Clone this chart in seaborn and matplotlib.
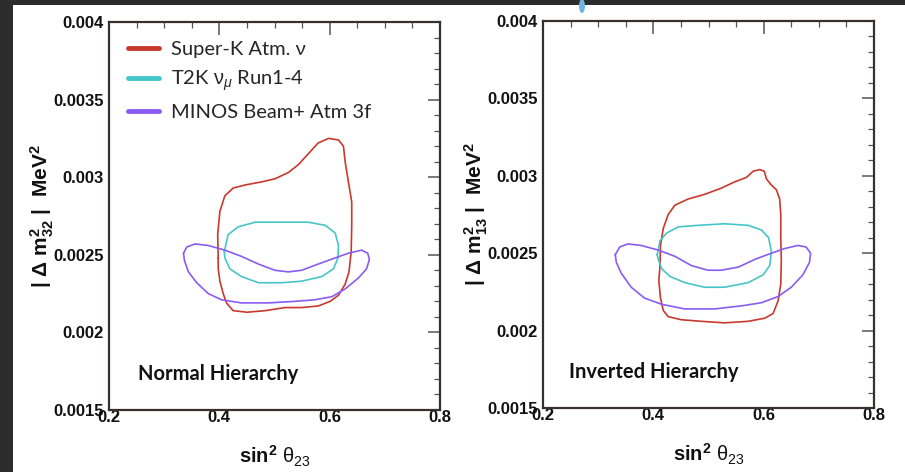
import numpy as np
import pandas as pd
import matplotlib.pyplot as plt
import seaborn as sns
from matplotlib.lines import Line2D
from matplotlib.patches import Rectangle, Ellipse
from matplotlib.ticker import MultipleLocator, FuncFormatter

# =========================
# DATA (contours, sin^2 theta23 vs |dm^2|)
# =========================
series = ["Super-K Atm. ν", r"T2K $\mathrm{\nu}_{\mu}$ Run1-4", "MINOS Beam+ Atm 3f"]
colors = ["#c8392e", "#45c6c8", "#8a5cf2"]

# Normal hierarchy
nh_sk_x = [0.398, 0.397, 0.401, 0.410, 0.425, 0.447, 0.477, 0.501, 0.525, 0.543, 0.561, 0.579, 0.598,
           0.616, 0.625, 0.628, 0.634, 0.640, 0.640, 0.639, 0.635, 0.628, 0.616, 0.601, 0.579, 0.549,
           0.519, 0.483, 0.450, 0.425, 0.413, 0.407, 0.401, 0.398, 0.398]
nh_sk_y = [0.00248, 0.00263, 0.00278, 0.00288, 0.00293, 0.00295, 0.00297, 0.00299, 0.00303, 0.00308, 0.00315, 0.00322, 0.00325,
           0.00324, 0.00320, 0.00310, 0.00297, 0.00284, 0.00269, 0.00252, 0.00239, 0.00231, 0.00224, 0.00220, 0.00217, 0.00216,
           0.00216, 0.00214, 0.00213, 0.00214, 0.00219, 0.00225, 0.00233, 0.00241, 0.00248]

nh_t2k_x = [0.409, 0.416, 0.434, 0.465, 0.513, 0.561, 0.592, 0.610, 0.616, 0.615, 0.607, 0.586,
            0.549, 0.513, 0.471, 0.440, 0.419, 0.410, 0.409]
nh_t2k_y = [0.00252, 0.00263, 0.00268, 0.00271, 0.00271, 0.00271, 0.00269, 0.00264, 0.00256, 0.00248, 0.00241, 0.00236,
            0.00233, 0.00232, 0.00232, 0.00236, 0.00241, 0.00248, 0.00252]

nh_minos_x = [0.335, 0.341, 0.356, 0.380, 0.410, 0.440, 0.471, 0.501, 0.525, 0.549, 0.579, 0.610, 0.634,
              0.658, 0.669, 0.672, 0.667, 0.652, 0.628, 0.604, 0.573, 0.537, 0.489, 0.440, 0.404, 0.380,
              0.359, 0.344, 0.337, 0.335]
nh_minos_y = [0.00251, 0.00255, 0.00257, 0.00256, 0.00253, 0.00249, 0.00244, 0.00240, 0.00239, 0.00240, 0.00244, 0.00248, 0.00251,
              0.00253, 0.00251, 0.00247, 0.00241, 0.00235, 0.00228, 0.00223, 0.00221, 0.00220, 0.00219, 0.00219, 0.00221, 0.00225,
              0.00232, 0.00239, 0.00246, 0.00251]

# Inverted hierarchy
ih_sk_x = [0.412, 0.413, 0.418, 0.427, 0.439, 0.463, 0.493, 0.523, 0.547, 0.569, 0.581, 0.593, 0.601,
           0.605, 0.614, 0.623, 0.629, 0.631, 0.631, 0.632, 0.631, 0.626, 0.617, 0.602, 0.572, 0.529,
           0.487, 0.451, 0.427, 0.418, 0.413, 0.410, 0.412]
ih_sk_y = [0.00242, 0.00255, 0.00266, 0.00275, 0.00281, 0.00285, 0.00288, 0.00292, 0.00296, 0.00299, 0.00303, 0.00304, 0.00303,
           0.00298, 0.00294, 0.00291, 0.00285, 0.00275, 0.00260, 0.00245, 0.00230, 0.00219, 0.00211, 0.00208, 0.00206, 0.00205,
           0.00206, 0.00207, 0.00209, 0.00213, 0.00221, 0.00232, 0.00242]

ih_t2k_x = [0.407, 0.412, 0.424, 0.445, 0.481, 0.529, 0.572, 0.596, 0.609, 0.614, 0.611, 0.599,
            0.572, 0.529, 0.493, 0.457, 0.430, 0.415, 0.409, 0.407]
ih_t2k_y = [0.00249, 0.00258, 0.00263, 0.00267, 0.00268, 0.00269, 0.00268, 0.00265, 0.00260, 0.00251, 0.00242, 0.00236,
            0.00231, 0.00228, 0.00228, 0.00231, 0.00235, 0.00240, 0.00246, 0.00249]

ih_minos_x = [0.331, 0.339, 0.354, 0.378, 0.409, 0.439, 0.469, 0.499, 0.523, 0.554, 0.584, 0.614, 0.638,
              0.662, 0.677, 0.685, 0.683, 0.671, 0.650, 0.626, 0.596, 0.560, 0.511, 0.457, 0.415, 0.384,
              0.360, 0.342, 0.333, 0.331]
ih_minos_y = [0.00249, 0.00254, 0.00256, 0.00255, 0.00252, 0.00248, 0.00242, 0.00239, 0.00239, 0.00241, 0.00246, 0.00250, 0.00253,
              0.00255, 0.00254, 0.00250, 0.00244, 0.00236, 0.00228, 0.00222, 0.00218, 0.00216, 0.00214, 0.00214, 0.00217, 0.00221,
              0.00228, 0.00237, 0.00244, 0.00249]

panels = [
    ("Normal Hierarchy", r"$\mathbf{|\ \Delta\ m^{2}_{32}\ |\ \ MeV^{2}}$",
     [(nh_sk_x, nh_sk_y), (nh_t2k_x, nh_t2k_y), (nh_minos_x, nh_minos_y)]),
    ("Inverted Hierarchy", r"$\mathbf{|\ \Delta\ m^{2}_{13}\ |\ \ MeV^{2}}$",
     [(ih_sk_x, ih_sk_y), (ih_t2k_x, ih_t2k_y), (ih_minos_x, ih_minos_y)]),
]

# =========================
# STYLE
# =========================
sns.set_theme(style="white")
plt.rcParams["font.family"] = ["Liberation Sans", "DejaVu Sans"]
plt.rcParams["mathtext.fontset"] = "custom"
plt.rcParams["mathtext.rm"] = "Liberation Sans"
plt.rcParams["mathtext.bf"] = "Liberation Sans:bold"
plt.rcParams["mathtext.it"] = "Liberation Sans:italic"

fig = plt.figure(figsize=(9.05, 4.72), dpi=100, facecolor="#2c2c2c")
fig.patches.append(Rectangle((13 / 905, 0), 1 - 13 / 905, 1 - 5 / 472, transform=fig.transFigure,
                             facecolor="white", edgecolor="none", zorder=-2))
fig.patches.append(Ellipse((582 / 905, 1 - 6 / 472), 6 / 905, 14 / 472, transform=fig.transFigure,
                           facecolor="#6db6e6", edgecolor="none", zorder=-1))

ax_pos = [[109 / 905, 1 - 410 / 472, 331 / 905, 388 / 472],
          [543 / 905, 1 - 408 / 472, 331 / 905, 387 / 472]]

for k, (title, ylab, curves) in enumerate(panels):
    ax = fig.add_axes(ax_pos[k])
    ax.set_facecolor("white")
    for (cx, cy), col in zip(curves, colors):
        df = pd.DataFrame({"x": cx, "y": cy})
        sns.lineplot(data=df, x="x", y="y", sort=False, estimator=None, color=col, lw=1.2, ax=ax)

    ax.set_xlim(0.2, 0.8)
    ax.set_ylim(0.0015, 0.004)
    ax.xaxis.set_major_locator(MultipleLocator(0.2))
    ax.xaxis.set_minor_locator(MultipleLocator(0.05))
    ax.yaxis.set_major_locator(MultipleLocator(0.0005))
    ax.yaxis.set_minor_locator(MultipleLocator(0.0001))
    ax.yaxis.set_major_formatter(FuncFormatter(lambda v, p: f"{v:g}"))
    ax.xaxis.set_major_formatter(FuncFormatter(lambda v, p: f"{v:g}"))
    ax.tick_params(which="both", direction="in", top=True, right=True, color="#555555")
    ax.tick_params(which="major", length=9, width=1.1)
    ax.tick_params(which="minor", length=4.5, width=0.9)
    ax.tick_params(axis="x", which="major", pad=0)
    ax.tick_params(axis="y", which="major", pad=4)
    for lab in ax.get_xticklabels() + ax.get_yticklabels():
        lab.set_fontweight("bold")
        lab.set_fontsize(12)
        lab.set_color("#111111")
    for sp in ax.spines.values():
        sp.set_color("#3a2f2f")
        sp.set_linewidth(1.6)

    ax.set_xlabel(r"$\mathbf{sin^{2}}\ \mathrm{\theta}_{23}$", fontsize=14.5, color="#111111")
    ax.set_ylabel(ylab, fontsize=15, color="#111111")
    ax.xaxis.set_label_coords(0.5, -0.088)
    ax.yaxis.set_label_coords(-0.16, 0.5)

    ax.text(0.252 if k == 0 else 0.247, 0.00173, title, family=["Lato", "DejaVu Sans"],
            fontsize=14.5, fontweight="bold", color="#111111", va="center", ha="left")

    if k == 0:
        handles = [Line2D([0], [0], color=c, lw=3.5) for c in colors]
        ax.legend(handles, series, loc="upper left", bbox_to_anchor=(0.0, 1.0), frameon=False,
                  prop={"family": ["Lato", "DejaVu Sans"], "size": 14.5}, handlelength=1.55,
                  handletextpad=0.6, labelspacing=0.52, borderaxespad=0.55)
    elif ax.get_legend() is not None:
        ax.get_legend().remove()

fig.savefig("out.png", dpi=100, facecolor=fig.get_facecolor())
